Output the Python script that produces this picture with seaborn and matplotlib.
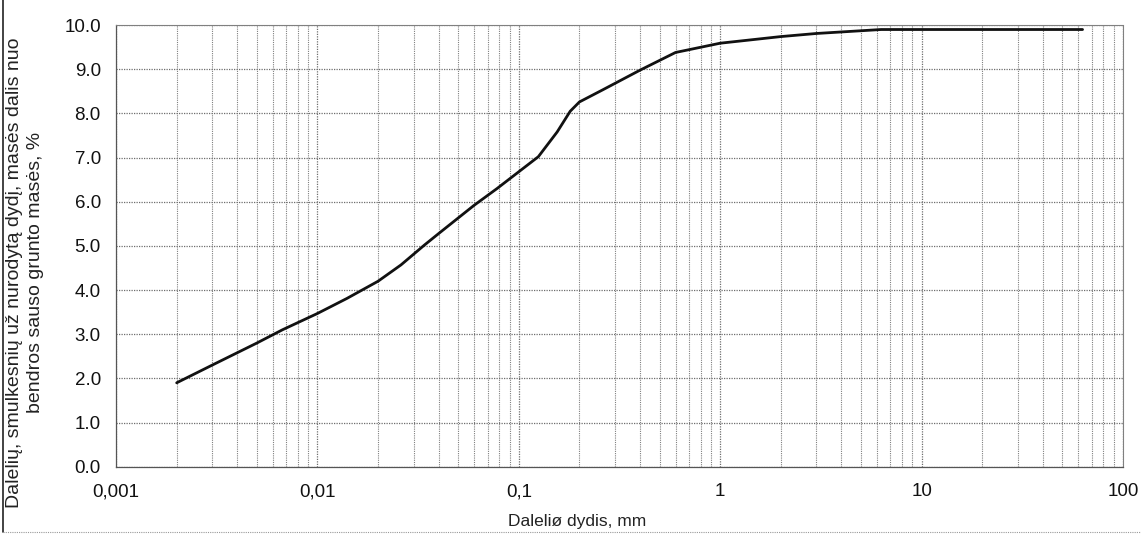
import matplotlib
matplotlib.use('Agg')
import matplotlib.pyplot as plt
import matplotlib.ticker as mticker
from matplotlib.lines import Line2D
import pandas as pd
import seaborn as sns

# Grain size distribution curve
particle_size = [0.002, 0.003, 0.005, 0.0067, 0.01, 0.014, 0.02, 0.026, 0.034, 0.04,
                 0.06, 0.078, 0.125, 0.155, 0.18, 0.2, 0.26, 0.4, 0.6, 1.0,
                 2.0, 3.0, 6.3, 63.0]
passing = [1.9, 2.3, 2.8, 3.1, 3.47, 3.81, 4.2, 4.57, 5.02, 5.28,
           5.92, 6.3, 7.02, 7.58, 8.05, 8.26, 8.53, 8.98, 9.38, 9.59,
           9.74, 9.81, 9.9, 9.9]
x_ticks = [0.001, 0.01, 0.1, 1, 10, 100]
y_ticks = [0, 1, 2, 3, 4, 5, 6, 7, 8, 9, 10]

df = pd.DataFrame({'size': particle_size, 'passing': passing})

sns.set_theme(style='white')
plt.rcParams['font.family'] = ['Liberation Sans', 'DejaVu Sans']

fig = plt.figure(figsize=(11.41, 5.34), dpi=100)
ax = fig.add_axes([0.1017, 0.126, 0.8825, 0.827])

sns.lineplot(data=df, x='size', y='passing', ax=ax, sort=False,
             color='#111111', linewidth=2.0)

ax.set_xscale('log')
ax.set_xlim(0.001, 100)
ax.set_ylim(0, 10)
ax.set_xticks(x_ticks)
ax.xaxis.set_major_formatter(mticker.FuncFormatter(lambda v, p: f'{v:g}'.replace('.', ',')))
ax.xaxis.set_minor_locator(mticker.LogLocator(base=10, subs=range(2, 10), numticks=20))
ax.xaxis.set_minor_formatter(mticker.NullFormatter())
ax.set_yticks(y_ticks)
ax.yaxis.set_major_formatter(mticker.FormatStrFormatter('%.1f'))

# dotted grid like the scanned original
ax.grid(True, which='major', axis='both', color='#6e6e6e', linestyle=(0, (1, 1)), linewidth=0.9)
ax.grid(True, which='minor', axis='x', color='#808080', linestyle=(0, (1, 1)), linewidth=0.8)

ax.tick_params(axis='both', which='major', direction='out', length=5, width=0.8,
               color='#555555', labelsize=13.5, labelcolor='#111111')
ax.tick_params(axis='x', which='major', pad=7)
ax.tick_params(axis='x', which='minor', length=0)
ax.tick_params(axis='y', pad=6)

for side in ['left', 'bottom']:
    ax.spines[side].set_color('#555555')
    ax.spines[side].set_linewidth(0.9)
for side in ['top', 'right']:
    ax.spines[side].set_color('#808080')
    ax.spines[side].set_linewidth(0.8)
    ax.spines[side].set_linestyle((0, (1, 1)))

ax.set_xlabel('Daleliø dydis, mm', fontsize=12.5, color='#222222')
ax.xaxis.set_label_coords(0.458, -0.125)
ax.xaxis.label.set_va('center')
ax.set_ylabel('Dalelių, smulkesnių už nurodytą dydį, masės dalis nuo\nbendros sauso grunto masės, %',
              fontsize=14, color='#222222', linespacing=1.25)
ax.yaxis.set_label_coords(-0.0904, 0.44)
ax.yaxis.label.set_va('center')

# page border on the left and bottom of the scan
fig.add_artist(Line2D([0.003, 0.003], [0.004, 1.0], transform=fig.transFigure,
                      color='#222222', linewidth=1.2))
fig.add_artist(Line2D([0.003, 1.0], [0.004, 0.004], transform=fig.transFigure,
                      color='#999999', linewidth=0.8, linestyle=(0, (1, 1))))

fig.savefig('out.png', dpi=100)
